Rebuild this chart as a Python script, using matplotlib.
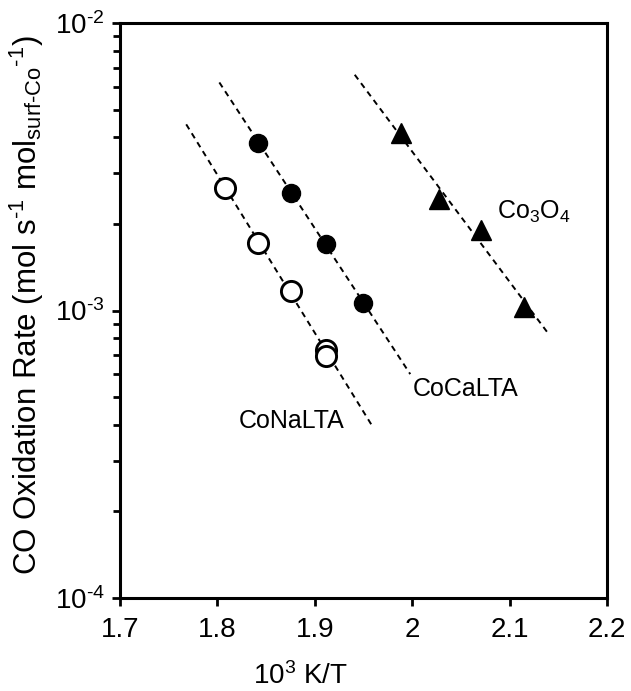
import numpy as np
import matplotlib
matplotlib.use("Agg")
import matplotlib.pyplot as plt
from matplotlib.ticker import LogLocator, NullFormatter, FixedLocator, FixedFormatter

plt.rcParams["font.family"] = ["Liberation Sans", "DejaVu Sans"]
plt.rcParams["mathtext.fontset"] = "custom"
plt.rcParams["mathtext.rm"] = "Liberation Sans"
plt.rcParams["mathtext.it"] = "Liberation Sans"
plt.rcParams["mathtext.default"] = "regular"

# Arrhenius data: x = 10^3 K / T, rate in mol s^-1 mol_surf-Co^-1
conalta_x = [1.808, 1.842, 1.876, 1.912, 1.912]
conalta_rate = [2.67e-3, 1.72e-3, 1.17e-3, 7.30e-4, 6.95e-4]

cocalta_x = [1.842, 1.876, 1.912, 1.949]
cocalta_rate = [3.84e-3, 2.56e-3, 1.71e-3, 1.064e-3]

co3o4_x = [1.988, 2.028, 2.071, 2.115]
co3o4_rate = [4.14e-3, 2.44e-3, 1.90e-3, 1.03e-3]

# x-span of each fitted line
conalta_fit_span = [1.768, 1.960]
cocalta_fit_span = [1.802, 1.998]
co3o4_fit_span = [1.941, 2.141]

xticks = [1.7, 1.8, 1.9, 2.0, 2.1, 2.2]
xticklabels = ["1.7", "1.8", "1.9", "2", "2.1", "2.2"]

fig = plt.figure(figsize=(6.31, 6.91), dpi=100)
ax = fig.add_axes([120 / 631, 1 - 598 / 691, 487 / 631, 575 / 691])


def fit_line(x, y, span):
    p = np.polyfit(np.asarray(x), np.log10(np.asarray(y)), 1)
    xs = np.array(span)
    return xs, 10 ** np.polyval(p, xs)


dash_kw = dict(color="black", lw=1.4, linestyle=(0, (3.0, 2.4)), zorder=1)
for xs, ys, span in [(conalta_x, conalta_rate, conalta_fit_span),
                     (cocalta_x, cocalta_rate, cocalta_fit_span),
                     (co3o4_x, co3o4_rate, co3o4_fit_span)]:
    lx, ly = fit_line(xs, ys, span)
    ax.plot(lx, ly, **dash_kw)

ax.plot(conalta_x, conalta_rate, "o", ms=14.5, mfc="white", mec="black", mew=2.1,
        linestyle="none", zorder=3)
ax.plot(cocalta_x, cocalta_rate, "o", ms=13, mfc="black", mec="black",
        linestyle="none", zorder=3)
ax.plot(co3o4_x, co3o4_rate, "^", ms=15, mfc="black", mec="black",
        linestyle="none", zorder=3)

ax.text(1.822, 3.894e-4, "CoNaLTA", fontsize=18, ha="left", va="baseline")
ax.text(2.0005, 5.04e-4, "CoCaLTA", fontsize=18, ha="left", va="baseline")
ax.text(2.0867, 2.086e-3, r"Co$_3$O$_4$", fontsize=18, ha="left", va="baseline")

ax.set_yscale("log")
ax.set_xlim(1.7, 2.2)
ax.set_ylim(1e-4, 1e-2)

ax.xaxis.set_major_locator(FixedLocator(xticks))
ax.xaxis.set_major_formatter(FixedFormatter(xticklabels))
ax.xaxis.set_minor_locator(FixedLocator([]))
ax.yaxis.set_major_locator(FixedLocator([1e-4, 1e-3, 1e-2]))
ax.yaxis.set_major_formatter(FixedFormatter([r"10$^{\text{-}4}$", r"10$^{\text{-}3}$",
                                             r"10$^{\text{-}2}$"]))
ax.yaxis.set_minor_locator(LogLocator(base=10, subs=np.arange(2, 10)))
ax.yaxis.set_minor_formatter(NullFormatter())

for s in ax.spines.values():
    s.set_linewidth(2.2)
ax.tick_params(axis="x", which="major", direction="out", length=6, width=2,
               labelsize=20, pad=8, top=False)
ax.tick_params(axis="y", which="major", direction="out", length=6, width=2,
               labelsize=20, pad=5, right=False)
ax.tick_params(axis="y", which="minor", direction="out", length=5, width=2,
               right=False)

ax.set_ylabel(r"CO Oxidation Rate (mol s$^{\text{-}1}$ mol$_{surf\text{-}Co}$$^{\text{-}1}$)",
              fontsize=22.5, va="center")
ax.yaxis.set_label_coords((27 - 120) / 487, (598 - 305) / 575)
fig.text(300 / 631, 1 - 684 / 691, r"10$^3$ K/T", fontsize=20,
         ha="center", va="baseline")

fig.savefig("out.png", dpi=100)
